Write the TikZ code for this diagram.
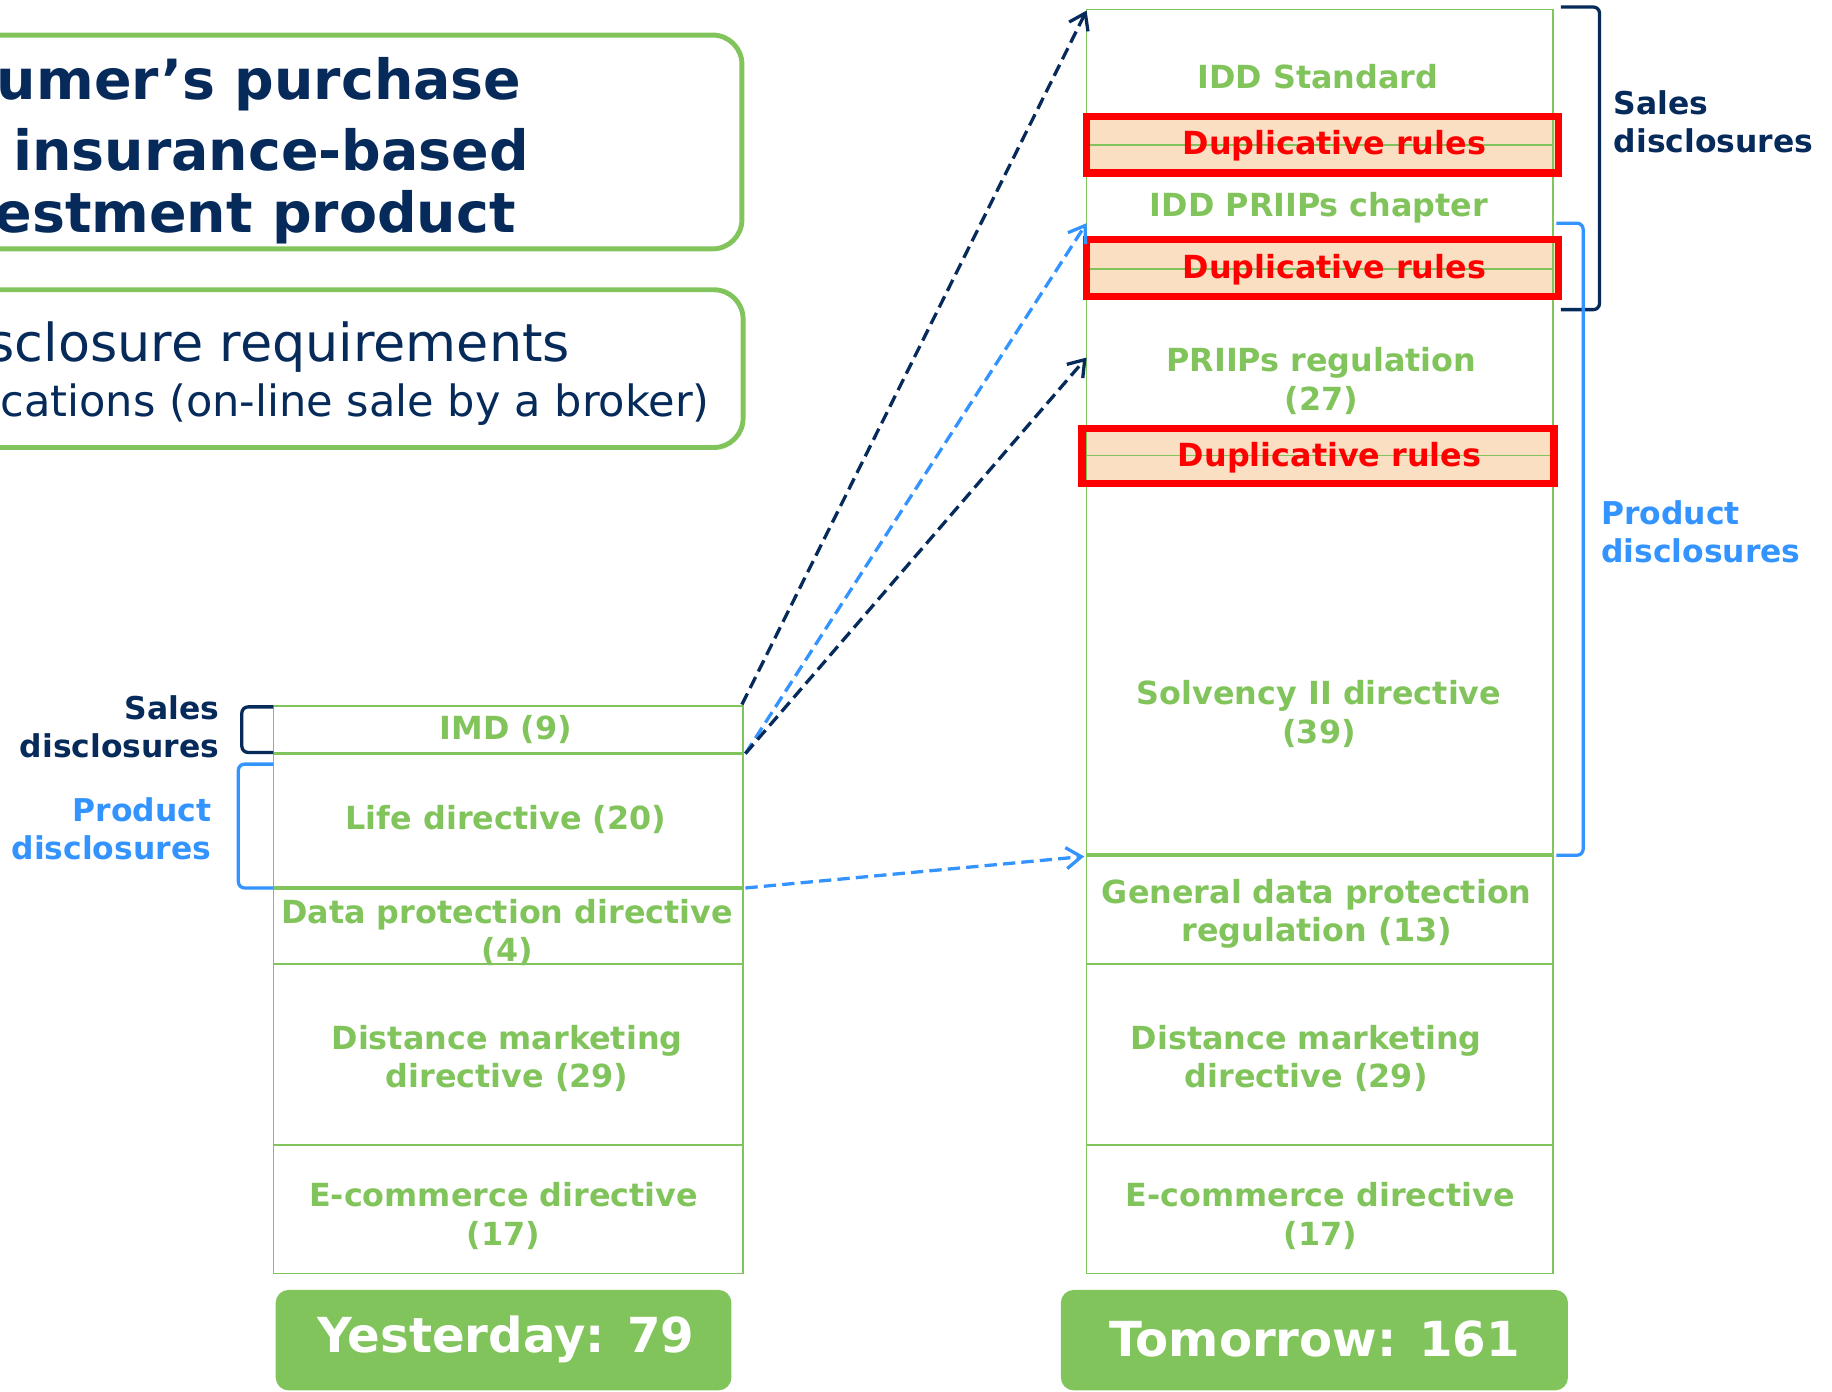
\documentclass[tikz,border=0pt]{standalone}
\usepackage{fontspec}
\setmainfont{DejaVu Sans}
\usetikzlibrary{arrows.meta}

\begin{document}
\begin{tikzpicture}[x=0.02cm, y=-0.02cm,
    segline/.style={draw=boxGreen, line width=0.8pt},
    thickline/.style={draw=boxGreen, line width=1.8pt},
    seglabel/.style={text=boxGreen, font=\fontsize{15.5}{18.8}\selectfont\bfseries, align=center, inner sep=0pt},
    dupfill/.style={fill=dupPeach},
    dupbox/.style={draw=dupRed, line width=3.5pt},
    duplabel/.style={text=dupRed, font=\fontsize{15.5}{18.8}\selectfont\bfseries, inner sep=0pt},
    sidelabel/.style={font=\fontsize{15.3}{18.6}\selectfont\bfseries, inner sep=0pt},
    bracket/.style={line width=1.6pt, rounded corners=3pt},
    titlebox/.style={draw=boxGreen, line width=2.4pt, rounded corners=0.5cm},
    titletext/.style={text=navyColour, anchor=west, inner sep=0pt},
    totalbox/.style={fill=boxGreen, rounded corners=0.22cm},
    totallabel/.style={text=white, font=\fontsize{23.5}{28}\selectfont\bfseries, inner sep=0pt},
    link/.style={line width=1.6pt, dash pattern=on 6pt off 3pt,
        -{Straight Barb[length=2.6mm, width=3.6mm, line width=1.6pt]}}
]
    % Define colours
    \definecolor{boxGreen}{HTML}{82C45C}
    \definecolor{navyColour}{HTML}{062A5A}
    \definecolor{blueColour}{HTML}{3393FF}
    \definecolor{dupRed}{HTML}{FF0000}
    \definecolor{dupPeach}{HTML}{FBDFC2}

    % Page size
    \useasboundingbox (0,0) rectangle (1568,1191);
    \clip (0,0) rectangle (1568,1191);

    % Title boxes (cut by the left edge)
    \draw[titlebox] (-60,30) rectangle (635,213);
    \node[titletext, font=\fontsize{27}{31}\selectfont\bfseries] (titleA) at (-3,72) {umer’s purchase};
    \node[titletext, font=\fontsize{27}{31}\selectfont\bfseries] (titleB) at (11,128) {insurance-based};
    \node[titletext, font=\fontsize{27}{31}\selectfont\bfseries] (titleC) at (-5,186) {estment product};

    \draw[titlebox] (-60,248) rectangle (636,383);
    \node[titletext, font=\fontsize{25.5}{30}\selectfont] (subA) at (-11,297) {sclosure requirements};
    \node[titletext, font=\fontsize{21}{25}\selectfont] (subB) at (0,346) {cations (on-line sale by a broker)};

    % Yesterday column
    \draw[segline] (234,604) rectangle (636,1090);
    \draw[thickline] (234,645) -- (636,645);
    \draw[thickline] (234,760) -- (636,760);
    \draw[segline] (234,825) -- (636,825);
    \draw[segline] (234,980) -- (636,980);

    \node[seglabel] (imd) at (433,624) {IMD (9)};
    \node[seglabel] (life) at (433,701) {Life directive (20)};
    \node[seglabel] (dpd) at (434,798) {Data protection directive\\(4)};
    \node[seglabel] (dmdOld) at (434,906) {Distance marketing\\directive (29)};
    \node[seglabel] (ecdOld) at (431,1041) {E-commerce directive\\(17)};

    % Tomorrow column
    \fill[dupfill] (930,100) rectangle (1334,148);
    \fill[dupfill] (930,205) rectangle (1334,254);
    \fill[dupfill] (926,367) rectangle (1330,414);

    \draw[segline] (930,8) rectangle (1329,1090);
    \draw[segline] (930,124) -- (1329,124);
    \draw[segline] (930,230) -- (1329,230);
    \draw[segline] (930,390) -- (1329,390);
    \draw[thickline] (930,732) -- (1329,732);
    \draw[segline] (930,825) -- (1329,825);
    \draw[segline] (930,980) -- (1329,980);

    \draw[dupbox] (930,100) rectangle (1334,148);
    \draw[dupbox] (930,205) rectangle (1334,254);
    \draw[dupbox] (926,367) rectangle (1330,414);

    \node[seglabel] (idd) at (1128,66) {IDD Standard};
    \node[duplabel] (dupA) at (1142,125) {Duplicative rules};
    \node[seglabel] (iddp) at (1129,178) {IDD PRIIPs chapter};
    \node[duplabel] (dupB) at (1142,231) {Duplicative rules};
    \node[seglabel] (priips) at (1131,326) {PRIIPs regulation\\(27)};
    \node[duplabel] (dupC) at (1138,392) {Duplicative rules};
    \node[seglabel] (solv) at (1129,611) {Solvency II directive\\(39)};
    \node[seglabel] (gdpr) at (1127,782) {General data protection\\regulation (13)};
    \node[seglabel] (dmdNew) at (1118,906) {Distance marketing\\directive (29)};
    \node[seglabel] (ecdNew) at (1130,1041) {E-commerce directive\\(17)};

    % Brackets and their labels
    \draw[bracket, navyColour] (1336,6) -- (1369,6) -- (1369,265) -- (1336,265);
    \draw[bracket, blueColour] (1332,191) -- (1355,191) -- (1355,732) -- (1332,732);
    \draw[bracket, navyColour] (234,605) -- (207,605) -- (207,644) -- (234,644);
    \draw[bracket, blueColour] (234,654) -- (204,654) -- (204,760) -- (234,760);

    \node[sidelabel, text=navyColour, align=left, anchor=west] (salesR) at (1381,104) {Sales\\disclosures};
    \node[sidelabel, text=blueColour, align=left, anchor=west] (productR) at (1370,455) {Product\\disclosures};
    \node[sidelabel, text=navyColour, align=right, anchor=east] (salesL) at (188,622) {Sales\\disclosures};
    \node[sidelabel, text=blueColour, align=right, anchor=east] (productL) at (181,709) {Product\\disclosures};

    % Totals
    \fill[totalbox] (236,1104) rectangle (626,1190);
    \node[totallabel] (yesterday) at (433,1146) {Yesterday: 79};
    \fill[totalbox] (908,1104) rectangle (1342,1190);
    \node[totallabel] (tomorrow) at (1125,1146) {Tomorrow: 161};

    % Arrow end points
    \coordinate (imdTop) at (635,603);
    \coordinate (lifeTop) at (638,645);
    \coordinate (lifeBottom) at (638,760);
    \coordinate (iddTop) at (930,9);
    \coordinate (iddpSide) at (930,191);
    \coordinate (priipsSide) at (930,306);
    \coordinate (solvBottom) at (928,733);

    % Draw the links
    \draw[link, navyColour] (imdTop) -- (iddTop);
    \draw[link, blueColour] (lifeTop) -- (iddpSide);
    \draw[link, navyColour] (lifeTop) -- (priipsSide);
    \draw[link, blueColour] (lifeBottom) -- (solvBottom);

\end{tikzpicture}
\end{document}
